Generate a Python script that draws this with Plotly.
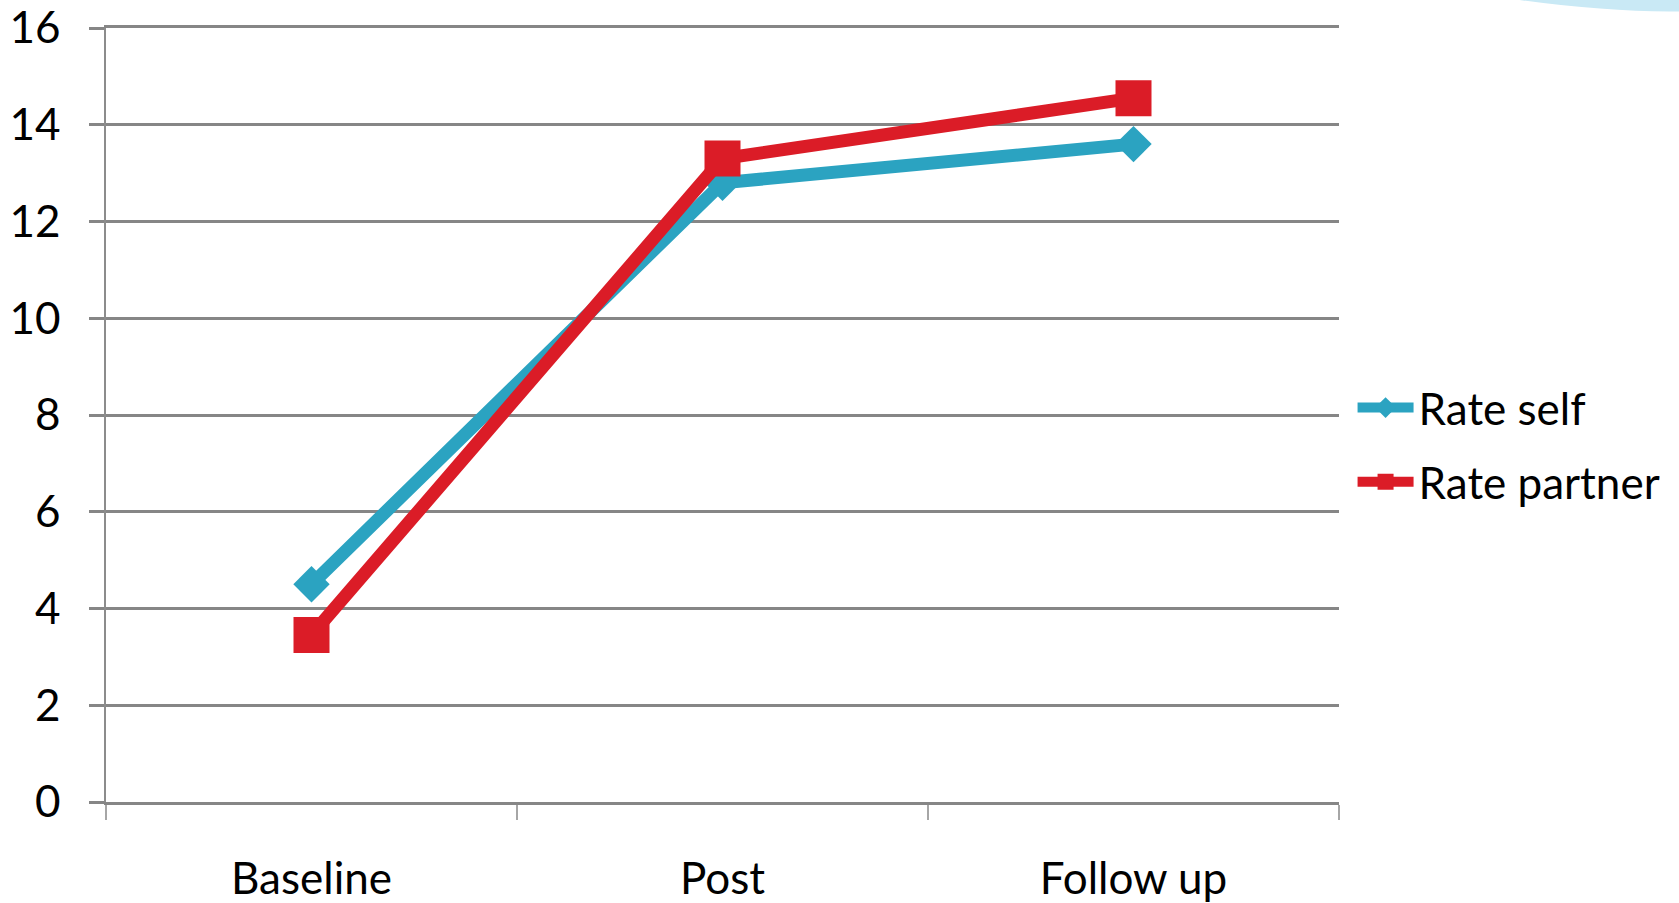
import plotly.graph_objects as go

categories = ["Baseline", "Post", "Follow up"]
rate_self = [4.5, 12.8, 13.6]
rate_partner = [3.45, 13.3, 14.55]
y_ticks = [0, 2, 4, 6, 8, 10, 12, 14, 16]

BLUE = "#2BA3C1"
RED = "#DB1C27"
GRID = "#868686"
FONT = "Lato"

fig = go.Figure()
fig.add_trace(go.Scatter(
    x=categories, y=rate_self, name="Rate self", mode="lines+markers",
    line=dict(color=BLUE, width=13),
    marker=dict(symbol="diamond", size=28, color=BLUE),
    legendgroup="a",
))
fig.add_trace(go.Scatter(
    x=categories, y=rate_partner, name="Rate partner", mode="lines+markers",
    line=dict(color=RED, width=13),
    marker=dict(symbol="square", size=36, color=RED),
    legendgroup="b",
))

# faint slide-background swoosh in the top-right corner
fig.add_shape(
    type="path", xref="paper", yref="paper",
    path="M 1.13 1.04 Q 1.22 1.018 1.29 1.022 L 1.29 1.04 Z",
    fillcolor="#C9E9F5", line=dict(width=0), layer="below",
)

fig.update_layout(
    width=1679, height=903,
    margin=dict(l=106, r=340, t=28, b=101, autoexpand=False),
    paper_bgcolor="white", plot_bgcolor="white",
    font=dict(family=FONT, size=44, color="black"),
    showlegend=True,
    legend=dict(
        x=1.011, y=0.555, xanchor="left", yanchor="top",
        font=dict(family=FONT, size=44, color="black"),
        tracegroupgap=14, itemwidth=56,
        bgcolor="rgba(0,0,0,0)",
    ),
    xaxis=dict(
        type="category", range=[-0.5, 2.5],
        tickson="boundaries", ticks="outside", ticklen=15,
        tickcolor="#A6A6A6", tickwidth=1.5,
        showgrid=False, zeroline=False,
        showline=True, mirror=True, linecolor=GRID, linewidth=2.5,
        ticklabelstandoff=36,
        tickfont=dict(family=FONT, size=44, color="black"),
    ),
    yaxis=dict(
        range=[0, 16], tickvals=y_ticks, ticks="outside", ticklen=15,
        tickcolor=GRID, tickwidth=2.5,
        showgrid=True, gridcolor=GRID, gridwidth=2.5,
        showline=True, linecolor="#8C8C8C", linewidth=1.5,
        zeroline=True, zerolinecolor=GRID, zerolinewidth=2.5,
        ticklabelstandoff=20, ticklabeloverflow="allow",
        tickfont=dict(family=FONT, size=44, color="black"),
    ),
)

fig.write_html("out.html", config={"displayModeBar": False},
               post_script="document.body.style.margin='0';")
